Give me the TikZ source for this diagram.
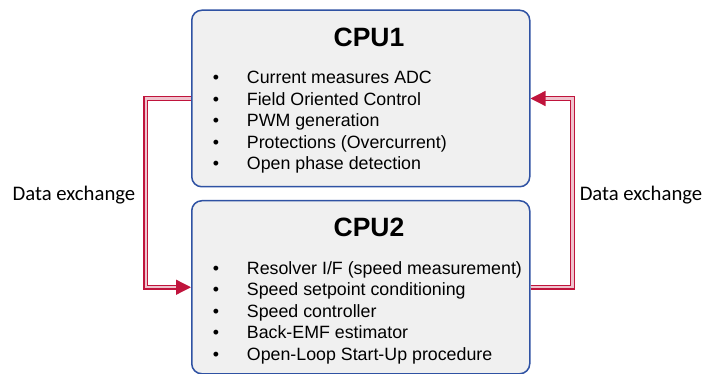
\documentclass[tikz,border=0pt]{standalone}
\usepackage{fontspec}
\setmainfont{Liberation Sans}
\newfontfamily\calibri{Carlito}
\usetikzlibrary{arrows.meta}
\definecolor{boxblue}{RGB}{47,82,163}
\definecolor{boxfill}{RGB}{240,240,240}
\definecolor{xred}{RGB}{192,20,60}

\begin{document}
\begin{tikzpicture}[x=1pt,y=-1pt,
    cpu/.style={draw=boxblue,line width=1.5pt,fill=boxfill,rounded corners=10pt,
      minimum width=338pt,anchor=north west,inner sep=0pt},
    title/.style={font=\fontsize{26.5}{30}\selectfont\bfseries,anchor=base,inner sep=0pt},
    item/.style={font=\fontsize{17.8}{21}\selectfont,anchor=base west,inner sep=0pt},
    bul/.style={font=\fontsize{17.8}{21}\selectfont,anchor=base,inner sep=0pt},
    xchg/.style={draw=xred,line width=1.3pt,double=xred!25,double distance=2.2pt,
      -{Triangle[length=15pt,width=15pt]}},
    lbl/.style={font=\calibri\fontsize{20.7}{24}\selectfont,anchor=base,inner sep=0pt}]

    \useasboundingbox (0,0) rectangle (704,374);

    % the two cores
    \node[cpu,minimum height=176.5pt] (cpu1) at (191,9.5) {};
    \node[cpu,minimum height=173pt] (cpu2) at (191,200) {};

    \node[title] (t1) at (369,46.7) {CPU1};
    \node[title] (t2) at (369,236.7) {CPU2};

    \foreach \t [count=\i] in {Current measures ADC,Field Oriented Control,PWM generation,
      Protections (Overcurrent),Open phase detection}
    {
    \node[bul] (b1\i) at (216,{84+21.5*(\i-1)}) {•};
    \node[item] (i1\i) at (246.7,{84+21.5*(\i-1)}) {\t};
    }
    \foreach \t [count=\i] in {Resolver I/F (speed measurement),Speed setpoint conditioning,
      Speed controller,Back-EMF estimator,Open-Loop Start-Up procedure}
    {
    \node[bul] (b2\i) at (216,{274+21.5*(\i-1)}) {•};
    \node[item] (i2\i) at (246.7,{274+21.5*(\i-1)}) {\t};
    }

    % data exchange links
    \draw[xchg] (cpu1.west) -- ++(-45.3,0) |- (cpu2.west);
    \draw[xchg] (cpu2.east) -- ++(42,0) |- (cpu1.east);

    \node[lbl] (dx1) at (74,201) {Data exchange};
    \node[lbl] (dx2) at (641,201) {Data exchange};

\end{tikzpicture}
\end{document}
